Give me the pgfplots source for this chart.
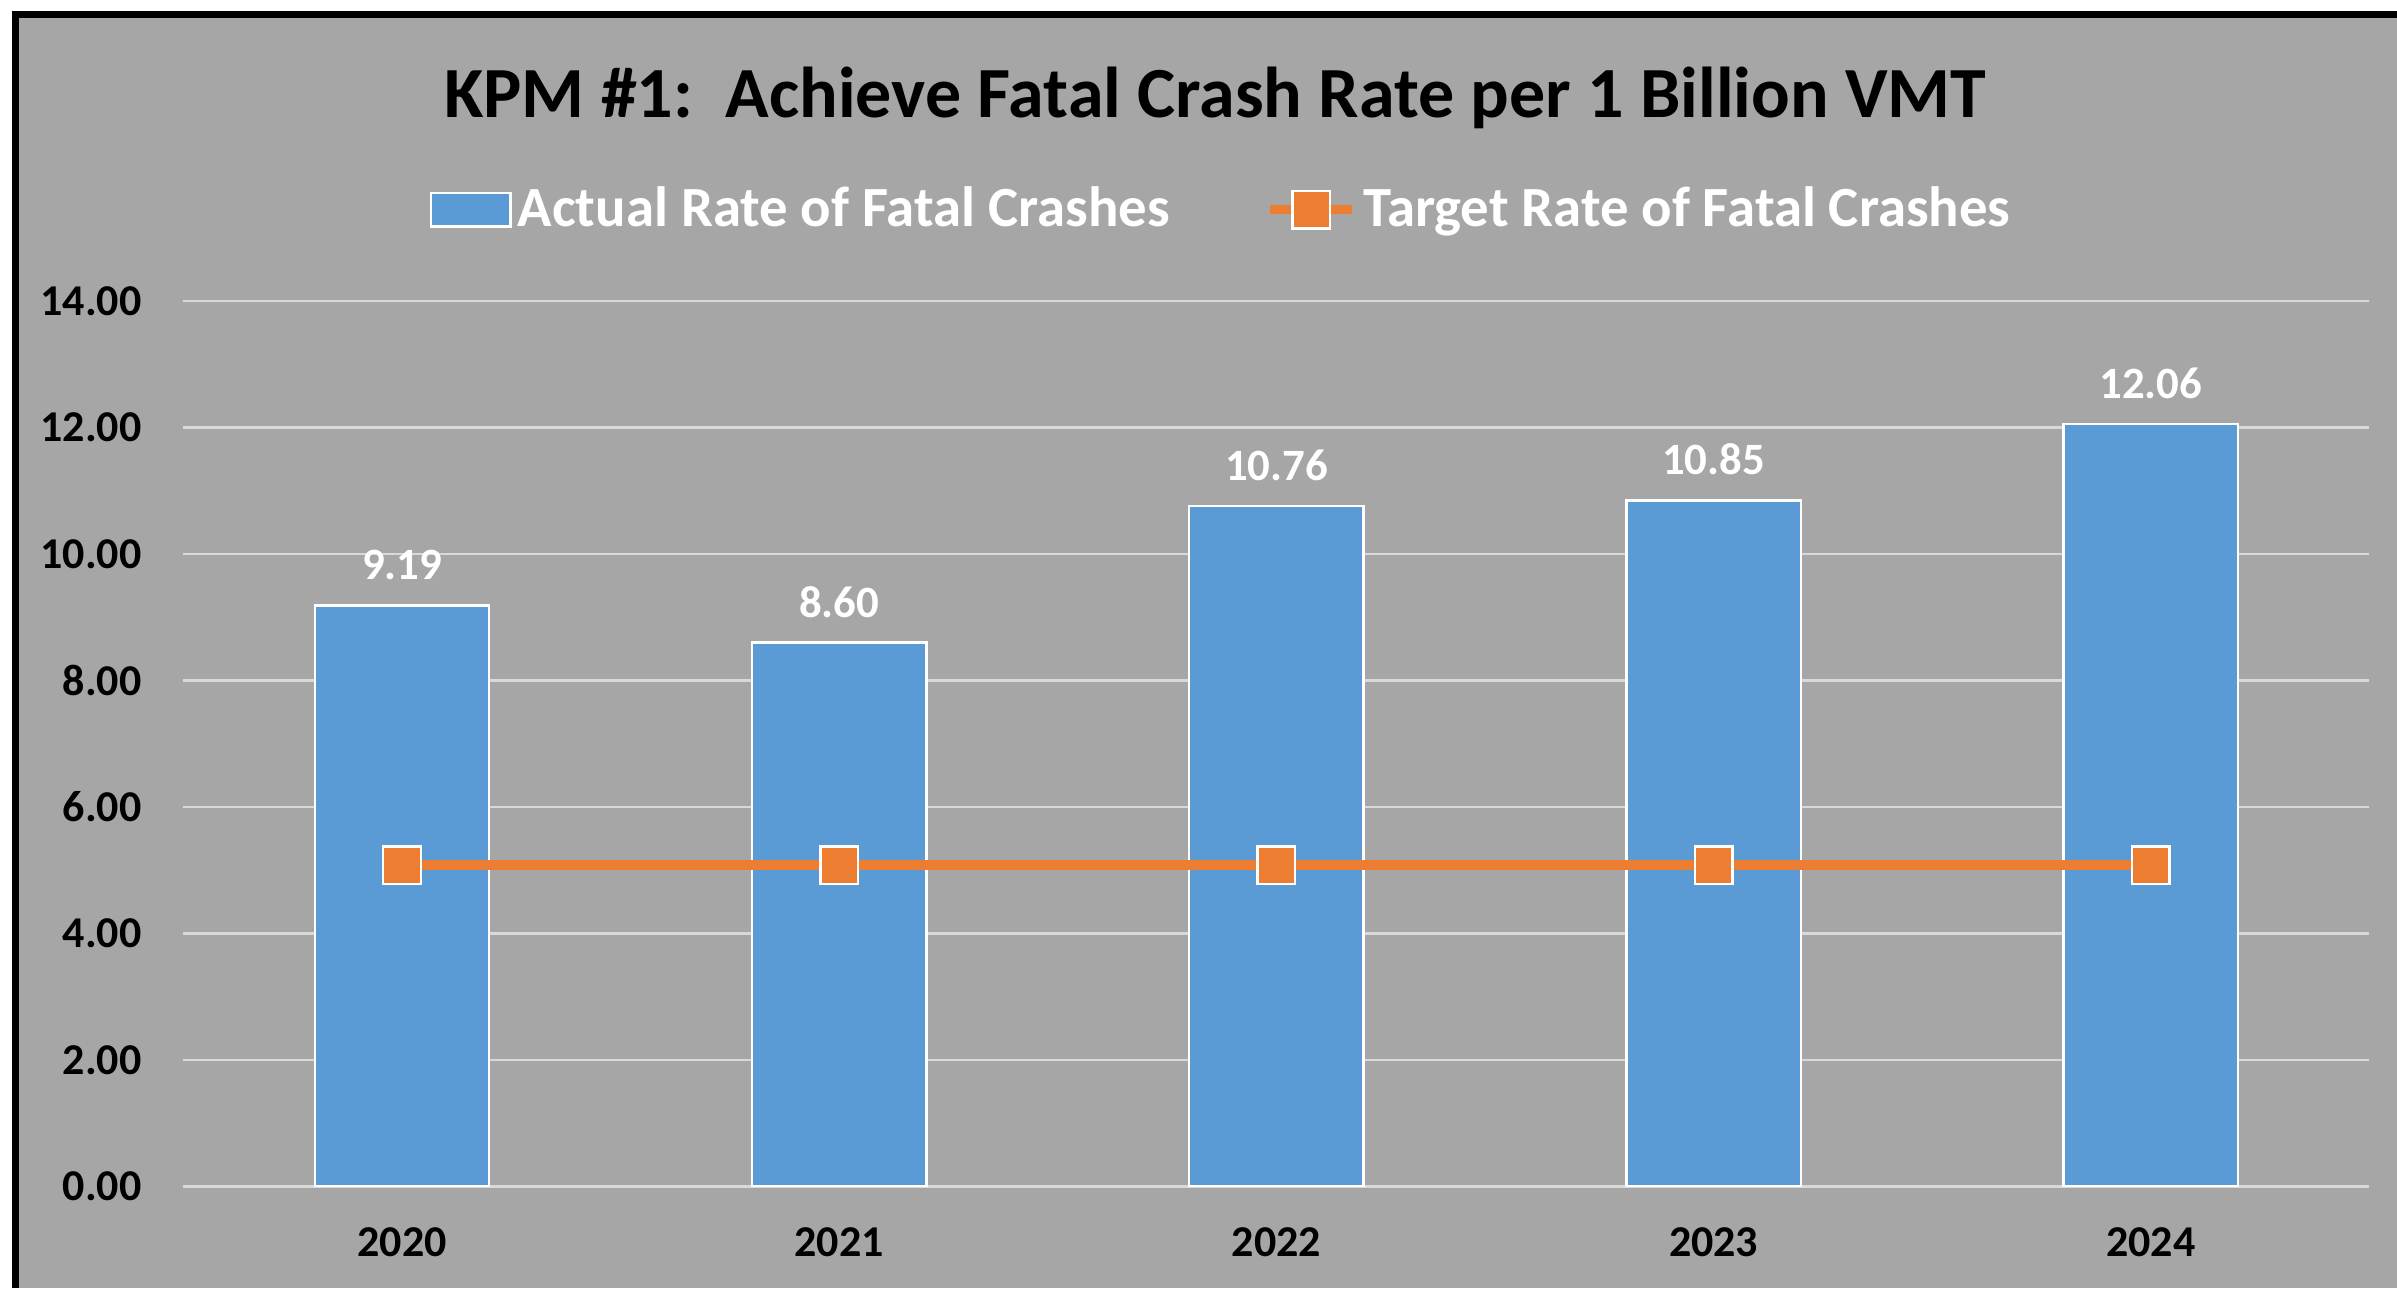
\documentclass[border=0pt]{standalone}
\usepackage{fontspec}
\setmainfont{Carlito}
\usepackage{pgfplots}
\pgfplotsset{compat=1.18}
\definecolor{bg}{HTML}{A6A6A6}
\definecolor{barblue}{HTML}{5B9BD5}
\definecolor{lineorange}{HTML}{ED7D31}
\definecolor{gridc}{HTML}{D9D9D9}
\begin{document}
\begin{tikzpicture}[x=1pt,y=1pt]
\useasboundingbox (0,0) rectangle (599.25,322);
\fill[white] (0,0) rectangle (599.25,322);
\fill[bg] (3.85,0) rectangle (599.25,318.35);
\draw[black, line width=1.9pt] (3.85,0) -- (3.85,318.35) -- (599.25,318.35);
\node[anchor=base, font=\bfseries\fontsize{18}{22}\selectfont] at (303.8,292.6) {KPM \#1:\ \ Achieve Fatal Crash Rate per 1 Billion VMT};
\begin{axis}[
  at={(45.86pt,25.4pt)}, anchor=south west,
  scale only axis, width=546.5pt, height=221.3pt,
  xmin=-0.5, xmax=4.5, ymin=0, ymax=14,
  ytick={0,2,...,14}, xtick={0,1,2,3,4},
  xticklabels={2020,2021,2022,2023,2024},
  axis line style={draw=none}, major tick length=0pt,
  ymajorgrids, grid style={gridc, line width=0.6pt},
  tick label style={font=\bfseries\fontsize{11}{13}\selectfont, black},
  yticklabel style={inner sep=0pt, xshift=-10.3pt},
  xticklabel style={inner sep=0pt, yshift=-10pt},
  /pgf/number format/fixed, /pgf/number format/fixed zerofill,
  /pgf/number format/precision=2, /pgf/number format/assume math mode=true,
  legend style={at={(0.4756,1.1035)}, anchor=center, draw=none, fill=none,
    text=white, font=\bfseries\fontsize{14.2}{16}\selectfont, inner sep=0pt,
    nodes={inner sep=1.5pt},
    /tikz/every even column/.append style={column sep=22.5pt}},
  legend columns=2,
]
\addplot[ybar, bar width=43.6pt, fill=barblue, draw=white, line width=0.6pt,
  nodes near coords,
  every node near coord/.append style={white, font=\bfseries\fontsize{11.2}{13}\selectfont, inner sep=0pt, yshift=6pt, anchor=south},
  legend image code/.code={\draw[fill=barblue, draw=white, line width=0.6pt] (0pt,-4.2pt) rectangle (19.9pt,4.2pt);}
] coordinates {(0,9.19) (1,8.60) (2,10.76) (3,10.85) (4,12.06)};
\addlegendentry{Actual Rate of Fatal Crashes}
\addplot[lineorange, line width=2.4pt, mark=square*, mark size=4.7pt,
  mark options={fill=lineorange, draw=white, line width=0.6pt, solid},
  legend image code/.code={\draw[lineorange, line width=2.4pt] (0cm,0cm) -- (0.72cm,0cm);
    \draw[mark=square*, mark size=4.7pt, mark options={fill=lineorange, draw=white, line width=0.6pt}] plot coordinates {(0.36cm,0cm)};}
] coordinates {(0,5.08) (1,5.08) (2,5.08) (3,5.08) (4,5.08)};
\addlegendentry{Target Rate of Fatal Crashes}
\end{axis}
\end{tikzpicture}
\end{document}
